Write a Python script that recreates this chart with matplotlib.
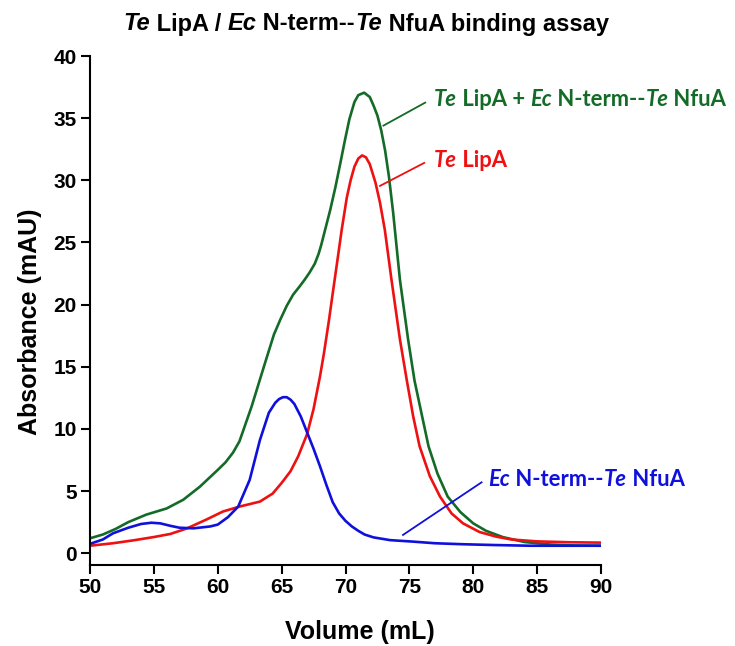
import matplotlib
matplotlib.use('Agg')
import matplotlib.pyplot as plt

# data
vol_lipa = [50, 51.8, 53.5, 55, 56.3, 57.6, 59.1, 60.4, 61.7, 62.5, 63.3, 64.3, 65.0, 65.7, 66.3,
            67.0, 67.5, 68.0, 68.3, 68.7, 69.04, 69.4, 69.7, 70.1, 70.4, 70.7, 71.0, 71.3, 71.6,
            71.9, 72.35, 72.7, 73.08, 73.6, 74.26, 74.8, 75.3, 75.8, 76.6, 77.4, 78.3, 79.2, 80.5,
            81.8, 83, 85, 87.5, 90]
abs_lipa = [0.6, 0.8, 1.05, 1.3, 1.55, 2.0, 2.7, 3.35, 3.75, 3.95, 4.15, 4.8, 5.65, 6.6, 7.8,
            9.6, 11.6, 14.2, 16.0, 18.7, 21.2, 23.8, 26.0, 28.6, 30.0, 31.1, 31.75, 32.0, 31.85,
            31.3, 29.8, 28.2, 26.0, 22.0, 17.2, 13.9, 11.0, 8.6, 6.2, 4.55, 3.2, 2.4, 1.7,
            1.33, 1.1, 0.95, 0.88, 0.85]

vol_mix = [50, 51, 52, 53, 54.4, 56, 57.3, 58.6, 60.0, 60.6, 61.2, 61.7, 62.65, 63.7, 64.4, 64.9,
           65.4, 65.9, 66.4, 66.8, 67.2, 67.6, 67.9, 68.1, 68.4, 68.8, 69.2, 69.6, 69.95, 70.3,
           70.7, 71.0, 71.46, 71.9, 72.2, 72.5, 72.8, 73.1, 73.4, 73.73, 74.26, 74.9, 75.4, 76.0,
           76.5, 77.2, 78.0, 79.0, 80.0, 81.0, 82.3, 84, 86, 88, 90]
abs_mix = [1.2, 1.5, 1.95, 2.5, 3.1, 3.6, 4.3, 5.35, 6.7, 7.3, 8.1, 9.0, 11.8, 15.3, 17.6, 18.8,
           19.9, 20.8, 21.45, 22.0, 22.6, 23.3, 24.1, 24.8, 26.0, 27.6, 29.4, 31.4, 33.2, 34.9,
           36.3, 36.85, 37.05, 36.7, 36.0, 35.2, 34.0, 32.4, 30.3, 27.4, 22.0, 17.2, 13.9, 11.0,
           8.6, 6.4, 4.55, 3.3, 2.4, 1.8, 1.3, 0.9, 0.7, 0.62, 0.6]

vol_nfua = [50, 51, 51.8, 53, 54, 54.8, 55.5, 56.3, 57.0, 58.1, 59.4, 60.0, 60.8, 61.6, 62.5, 63.3,
            64.0, 64.5, 64.8, 65.1, 65.4, 65.7, 66.0, 66.5, 67.0, 67.5, 68.0, 68.5, 69.0, 69.5,
            70.0, 70.5, 71.0, 71.5, 72.2, 73.5, 75.3, 77, 79.2, 81.5, 84.4, 87, 90]
abs_nfua = [0.75, 1.1, 1.6, 2.05, 2.35, 2.45, 2.4, 2.2, 2.05, 2.0, 2.15, 2.3, 2.9, 3.75, 5.9, 9.1,
            11.3, 12.1, 12.4, 12.55, 12.55, 12.35, 12.0, 11.0, 9.7, 8.4, 7.0, 5.5, 4.1, 3.2,
            2.6, 2.15, 1.8, 1.5, 1.27, 1.05, 0.93, 0.8, 0.72, 0.66, 0.6, 0.6, 0.6]

x_ticks = [50, 55, 60, 65, 70, 75, 80, 85, 90]
y_ticks = [0, 5, 10, 15, 20, 25, 30, 35, 40]

GREEN = '#136b27'
RED = '#ee1111'
BLUE = '#1010dd'

tick_font = 'Liberation Sans'
label_font = 'Lato'


def rich_text(ax, x, y, parts, transform, **kw):
    # draw a line of text piece by piece so some words can be italic
    first, style = parts[0]
    t = ax.text(x, y, first, transform=transform, fontstyle=style, va='center', ha='left',
                clip_on=False, **kw)
    for s, style in parts[1:]:
        t = ax.annotate(s, xy=(1, 0), xycoords=t, va='bottom', ha='left', fontstyle=style,
                        annotation_clip=False, **kw)
    return t


fig = plt.figure(figsize=(7.35, 6.46), dpi=100)
ax = fig.add_axes([90 / 735, 81 / 646, 511 / 735, 509 / 646])

ax.plot(vol_mix, abs_mix, color=GREEN, lw=1.9)
ax.plot(vol_lipa, abs_lipa, color=RED, lw=1.9)
ax.plot(vol_nfua, abs_nfua, color=BLUE, lw=1.9)

ax.set_xlim(50, 90)
ax.set_ylim(-0.95, 40)
ax.set_xticks(x_ticks)
ax.set_yticks(y_ticks)
ax.spines['top'].set_visible(False)
ax.spines['right'].set_visible(False)
for s in ['left', 'bottom']:
    ax.spines[s].set_linewidth(1.5)
ax.tick_params(direction='out', length=6.5, width=1.5, pad=3)
for lab in ax.get_xticklabels() + ax.get_yticklabels():
    lab.set_fontfamily(tick_font)
    lab.set_fontweight('bold')
    lab.set_fontsize(15)

fig.text(30 / 735, 1 - 322 / 646, 'Absorbance (mAU)', rotation=90, ha='center', va='center',
         family=tick_font, weight='bold', fontsize=18)
fig.text(360 / 735, 1 - 632 / 646, 'Volume (mL)', ha='center', va='center',
         family=tick_font, weight='bold', fontsize=18)

# title with italic organism names
rich_text(ax, 123 / 735, 1 - 24 / 646,
          [('Te', 'italic'), (' LipA / ', 'normal'), ('Ec', 'italic'), (' N-term--', 'normal'),
           ('Te', 'italic'), (' NfuA binding assay', 'normal')],
          fig.transFigure, family=tick_font, weight='bold', fontsize=17, color='black')

# curve labels with leader lines
ax.plot([72.97, 76.24], [34.4, 36.25], color=GREEN, lw=1.3)
rich_text(ax, 76.9, 36.5,
          [('Te', 'italic'), (' LipA + ', 'normal'), ('Ec', 'italic'), (' N-term--', 'normal'),
           ('Te', 'italic'), (' NfuA', 'normal')],
          ax.transData, family=label_font, weight='bold', fontsize=15.8, color=GREEN)

ax.plot([72.7, 76.16], [29.55, 31.4], color=RED, lw=1.3)
rich_text(ax, 76.9, 31.6, [('Te', 'italic'), (' LipA', 'normal')],
          ax.transData, family=label_font, weight='bold', fontsize=15.8, color=RED)

ax.plot([74.5, 80.65], [1.47, 5.7], color=BLUE, lw=1.3)
rich_text(ax, 81.2, 5.9,
          [('Ec', 'italic'), (' N-term--', 'normal'), ('Te', 'italic'), (' NfuA', 'normal')],
          ax.transData, family=label_font, weight='bold', fontsize=15.8, color=BLUE)

fig.savefig('out.png', dpi=100)
